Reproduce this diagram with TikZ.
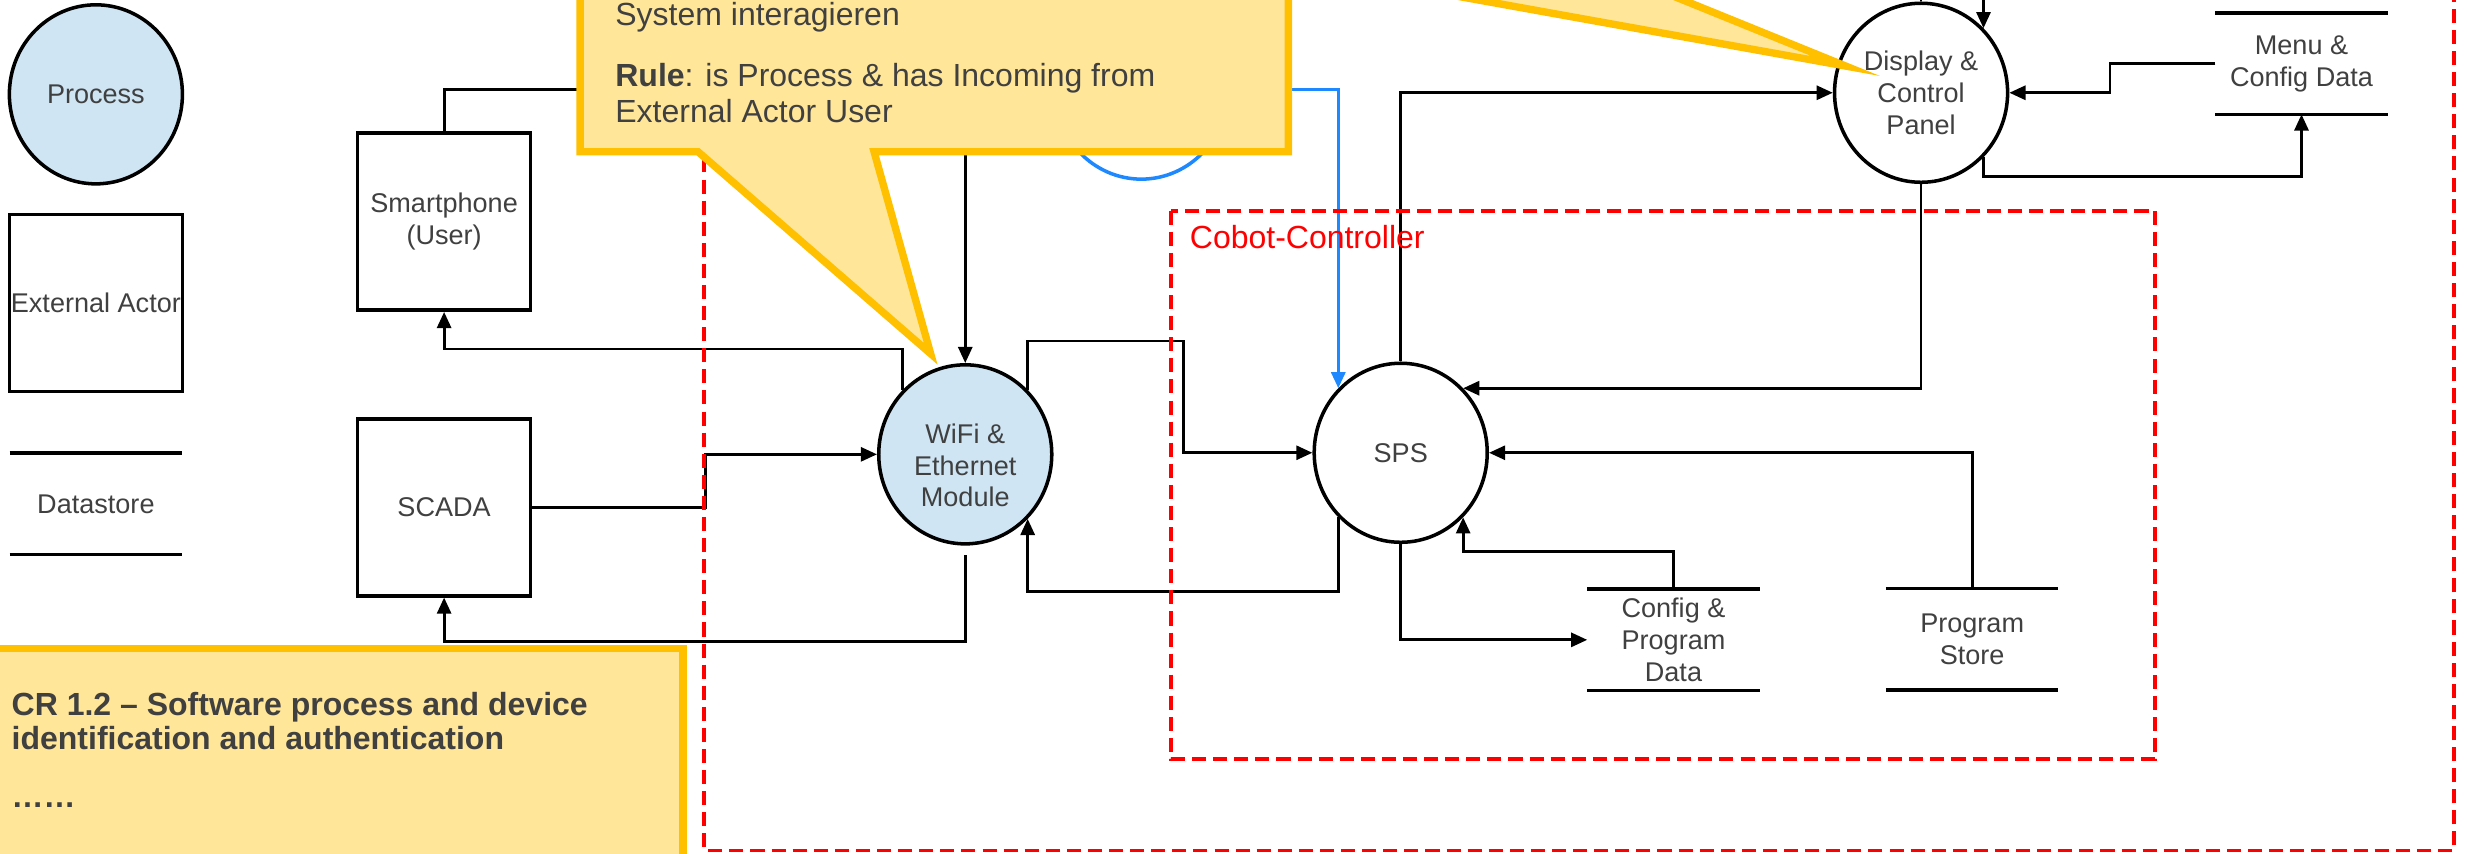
\documentclass[tikz,border=0pt]{standalone}
\usepackage{fontspec}
\setmainfont{Liberation Sans}
\usepackage{xcolor}
\definecolor{ProcBlue}{HTML}{CFE5F4}
\definecolor{FlowBlue}{HTML}{1E88FF}
\definecolor{NoteFill}{HTML}{FFE699}
\definecolor{NoteBorder}{HTML}{FFC000}
\definecolor{TextGray}{HTML}{404040}
\definecolor{ZoneRed}{HTML}{FF0000}
\usetikzlibrary{shapes.geometric, arrows.meta, positioning, calc}

\begin{document}
\begin{tikzpicture}[
  x=0.01572cm, y=-0.01572cm,
  every node/.style={
    text=TextGray,
    font=\fontsize{7.7}{9}\selectfont},
  process/.style={
    ellipse,
    draw=black,
    line width=1pt,
    fill=#1,
    minimum width=1.73cm,
    minimum height=1.79cm,
    inner sep=0pt,
    align=center},
  process/.default=white,
  actor/.style={
    rectangle,
    draw=black,
    line width=1pt,
    fill=white,
    minimum width=1.73cm,
    minimum height=1.77cm,
    inner sep=0pt,
    align=center},
  store/.style={
    rectangle,
    minimum width=1.71cm,
    minimum height=1.0cm,
    inner sep=0pt,
    align=center},
  storeline/.style={
    draw=black,
    line width=1pt},
  wire/.style={
    draw=black,
    line width=0.8pt},
  flow/.style={
    wire,
    -{Triangle[length=4.6pt,width=4pt]}},
  zone/.style={
    draw=ZoneRed,
    line width=1.1pt,
    dash pattern=on 4pt off 2pt},
  note/.style={
    fill=NoteFill,
    draw=NoteBorder,
    line width=2.1pt,
    line join=miter},
  notetext/.style={
    font=\fontsize{9.1}{10.3}\selectfont,
    align=left,
    inner sep=0pt},
]

\useasboundingbox (0,0) rectangle (1568,543);
\clip (0,0) rectangle (1568,543);

\node[process=ProcBlue] (legproc) at (61,60) {Process};
\node[actor, below=0.27cm of legproc] (legactor) {External Actor};
\node[store, below=0.6cm of legactor] (legstore) {Datastore};

\node[actor] (smart) at (282.5,141) {Smartphone\\(User)};
\node[actor, below=1.05cm of smart] (scada) {SCADA};

\node[process=ProcBlue,
      label={[yshift=-0.11cm, align=center]center:WiFi \&\\Ethernet\\Module}]
  (wifi) at (614,289) {};
\node[process] (sps) at (891,288) {SPS};
\node[process] (disp) at (1222,59) {Display \&\\Control\\Panel};
\node[process, draw=FlowBlue] (userapp) at (726,57) {};

\node[store] (menu) at (1464,40.5) {Menu \&\\Config Data};
\node[store] (cfgdata) at (1064.5,407) {Config \&\\Program\\Data};
\node[store] (progstore) at (1254.5,406.5) {Program\\Store};

\foreach \s in {legstore, menu, cfgdata, progstore}
  \draw[storeline] (\s.north west) -- (\s.north east)
                   (\s.south west) -- (\s.south east);

\coordinate (wifiin) at (614,-20);
\coordinate (dispout) at (1222,-20);
\coordinate (dispin) at (disp.north east |- 0,-20);

\draw[flow] (smart.north) |- (userapp.west);
\draw[flow, draw=FlowBlue, line width=0.9pt] (userapp.east) -| (sps.north west);
\draw[flow] (wifiin) -- (wifi.north);
\draw[flow] (wifi.north west) -- ++(0,-26) -| (smart.south);
\draw[flow] (scada.east) -- ++(110,0) |- (wifi.west);
\draw[flow, shorten <=2.7pt] (wifi.south) -- ++(0,61) -| (scada.south);
\draw[flow] (wifi.north east) -- ++(0,-31) -- ++(99,0) |- (sps.west);
\draw[flow] (sps.south west) -- ++(0,47) -| (wifi.south east);
\draw[flow] (sps.north) |- (disp.west);
\draw[flow] (disp.south) |- (sps.north east);
\draw[flow] (sps.south) |- (cfgdata.west);
\draw[flow] (cfgdata.north) -- ++(0,-24) -| (sps.south east);
\draw[flow] (progstore.north) |- (sps.east);
\draw[flow] (menu.west) -- ++(-67,0) |- (disp.east);
\draw[flow] (disp.south east) -- ++(0,12) -| (menu.south);
\draw[wire] (disp.north) -- (dispout);
\draw[flow] (dispin) -- (disp.north east);

\draw[zone] (448,-20) rectangle (1561,541);
\draw[zone] (745,134) rectangle (1371,483);
\node[anchor=west, text=ZoneRed, font=\fontsize{9.1}{10}\selectfont]
  (ctrllabel) at (749,151) {Cobot-Controller};

\draw[note] (369,-40) -- (819.5,-40) -- (819.5,96.5) -- (556,96.5)
  -- (592,225) -- (444,96.5) -- (369,96.5) -- cycle;
\node[notetext, anchor=north west] (rulenote) at (391,1)
  {System interagieren\\[7pt]
   \textbf{Rule}: is Process \& has Incoming from\\
   External Actor User};

\path[note] (718,-40) -- (1174,42) -- (972,-40);

\draw[note] (-20,412.5) rectangle (434.5,580);
\node[notetext, anchor=north west, font=\bfseries\fontsize{9.1}{9.6}\selectfont]
  (crnote) at (7,440)
  {CR 1.2 – Software process and device\\
   identification and authentication\\[6.9pt]
   ……};

\end{tikzpicture}
\end{document}
